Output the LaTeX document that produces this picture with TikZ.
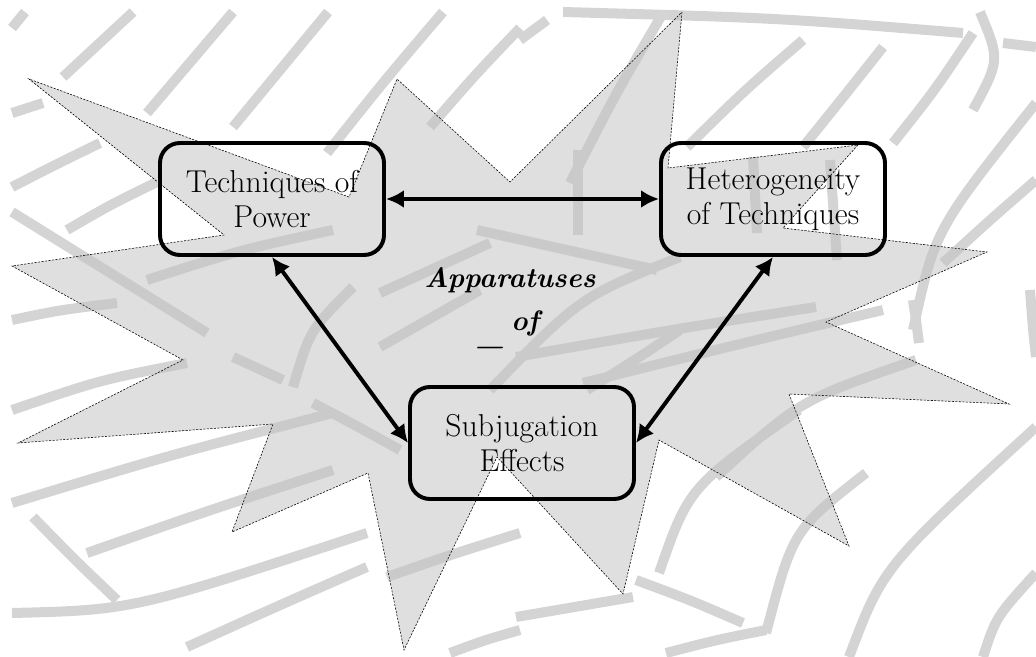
\documentclass[tikz,border=0pt]{standalone}
\usepackage{tikz}
\usetikzlibrary{arrows.meta}
\usetikzlibrary{positioning}

\begin{document}
\begin{tikzpicture}[x=0.25mm, y=-0.25mm,
  texture/.style={line width=2.5mm, draw=black!17},
  burst/.style={fill=black!24, fill opacity=0.53, draw=black, line width=0.4pt, dash pattern=on 1.5pt off 1pt},
  block/.style={draw, line width=2.8pt, rounded corners=5mm, minimum width=56mm, minimum height=28mm, align=center, font=\fontsize{22.5}{25}\selectfont},
  link/.style={{Latex[length=4.5mm,width=4.5mm]}-{Latex[length=4.5mm,width=4.5mm]}, line width=2.8pt},
  title/.style={font=\fontsize{20}{22}\selectfont\bfseries\itshape, anchor=base, inner sep=0pt}]
\useasboundingbox (0,0) rectangle (1036,657);

% background strokes
\begin{scope}
\clip (0,0) rectangle (1036,657);
\foreach \ax/\ay/\bx/\by/\cx/\cy in {
  12/28/18/20/25/12, 63/77/98/45/133/12, 147/113/190/62/233/12,
  233/127/280/70/328/12, 327/153/385/80/443/12, 430/127/475/75/520/28,
  520/40/533/30/547/20, 563/12/780/18/963/33, 980/12/1000/60/973/110,
  1003/43/1020/45/1036/47, 570/183/615/95/663/13, 578/150/578/190/578/235,
  687/147/745/90/803/40, 753/157/755/195/757/233, 803/147/845/95/883/47,
  830/160/833/210/837/260, 893/143/935/90/973/33, 913/330/935/230/1036/103,
  943/263/990/220/1036/180, 12/113/28/108/43/103, 12/187/55/165/100/143,
  67/230/110/205/157/182, 12/212/110/272/207/333, 12/320/60/310/117/303,
  147/280/240/250/333/230, 12/410/100/380/187/363, 12/503/170/455/333/413,
  33/517/75/560/117/600, 87/553/210/510/333/470, 12/613/133/610/367/533,
  187/647/280/605/367/567, 387/577/450/555/520/533, 450/653/485/640/520/630,
  233/357/258/368/283/380, 293/387/310/330/353/287, 313/403/355/425/400/450,
  380/347/430/318/480/290, 380/293/435/268/490/243, 477/230/567/250/657/270,
  490/390/580/297/680/257, 587/390/635/360/680/330,
  516/357/670/330/816/307, 583/383/735/345/883/310, 716/477/800/400/916/360,
  913/300/916/320/919/343, 659/573/689/487/799/410, 766/633/793/530/866/473,
  849/657/883/567/1036/427, 983/657/996/617/1036/573, 516/617/575/607/633/597,
  666/653/716/640/766/630, 636/580/690/600/743/623, 1030/290/1033/330/1036/357}
  \draw[texture] (\ax,\ay) .. controls (\bx,\by) .. (\cx,\cy);
\end{scope}

% the burst
\filldraw[burst] (682,12) -- (668,168) -- (858,145) -- (783,228) -- (987,252)
  -- (826,322) -- (1009,404) -- (789,394) -- (849,546) -- (659,440)
  -- (623,594) -- (497,457) -- (404,650) -- (368,473) -- (232,532)
  -- (273,424) -- (18,443) -- (183,360) -- (12,266) -- (224,235)
  -- (29,79) -- (349,197) -- (397,79) -- (510,182) -- cycle;

\node[block] (power) at (272,199) {Techniques of\\Power};
\node[block] (hetero) at (773,199) {Heterogeneity\\of Techniques};
\node[block] (subj) at (522,443) {Subjugation\\Effects};

\draw[link] (power) -- (hetero);
\draw[link] (power.south) -- (subj.west);
\draw[link] (hetero.south) -- (subj.east);

\node[title] (app) at (510,287) {Apparatuses};
\node[title] (of) at (525,330) {of};
\node[title] (rest) at (491,344) {\_};
\end{tikzpicture}
\end{document}
